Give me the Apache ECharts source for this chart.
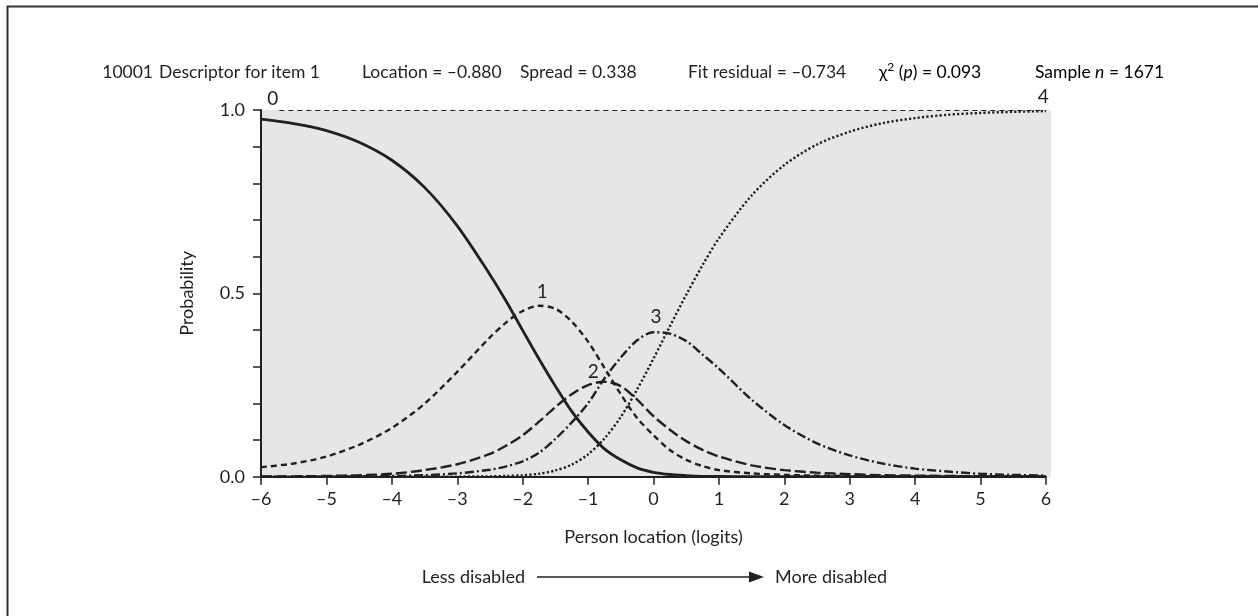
<!DOCTYPE html>
<html>
<head>
<meta charset="utf-8">
<script src="https://cdn.jsdelivr.net/npm/echarts@6/dist/echarts.min.js"></script>
<style>
  html, body { margin: 0; padding: 0; background: #fff; }
  #chart { width: 1258px; height: 616px; }
</style>
</head>
<body>
<div id="chart"></div>
<script>
// person location (logits); finer steps where the curves bend most
const xs = [-6, -5.5, -5, -4.5, -4, -3.5, -3, -2.5, -2.25, -2, -1.75, -1.5, -1.25, -1, -0.75, -0.5, -0.25, 0, 0.25, 0.5, 0.75, 1, 1.5, 2, 2.5, 3, 3.5, 4, 4.5, 5, 5.5, 6]

// category probability curves
const cat0 = [0.975, 0.963, 0.944, 0.912, 0.863, 0.789, 0.684, 0.551, 0.478, 0.399, 0.321, 0.247, 0.178, 0.122, 0.076, 0.046, 0.024, 0.012, 0.006, 0.003, 0.001, 0.0005, 0, 0, 0, 0, 0, 0, 0, 0, 0, 0]
const cat1 = [0.026, 0.036, 0.055, 0.087, 0.133, 0.199, 0.286, 0.380, 0.421, 0.452, 0.466, 0.458, 0.423, 0.368, 0.297, 0.225, 0.16, 0.113, 0.073, 0.046, 0.029, 0.018, 0.009, 0.005, 0.003, 0.002, 0.001, 0.001, 0, 0, 0, 0]
const cat2 = [0.0005, 0.001, 0.002, 0.004, 0.008, 0.018, 0.034, 0.062, 0.085, 0.113, 0.15, 0.19, 0.225, 0.25, 0.259, 0.247, 0.21, 0.165, 0.128, 0.097, 0.073, 0.055, 0.031, 0.018, 0.011, 0.007, 0.004, 0.003, 0.002, 0.001, 0.0005, 0]
const cat3 = [0, 0, 0, 0.001, 0.002, 0.004, 0.009, 0.019, 0.028, 0.042, 0.065, 0.103, 0.148, 0.2, 0.268, 0.325, 0.372, 0.394, 0.39, 0.37, 0.333, 0.295, 0.21, 0.141, 0.091, 0.058, 0.036, 0.022, 0.014, 0.008, 0.005, 0.003]
const cat4 = [0, 0, 0, 0, 0, 0, 0.0002, 0.001, 0.002, 0.004, 0.008, 0.017, 0.033, 0.061, 0.104, 0.163, 0.238, 0.322, 0.41, 0.496, 0.577, 0.65, 0.767, 0.85, 0.906, 0.941, 0.964, 0.978, 0.987, 0.992, 0.995, 0.997]

// curve labels (category number, x, probability)
const catNames = ['0', '1', '2', '3', '4']
const catLabelX = [-5.82, -1.7, -0.92, 0.04, 5.96]
const catLabelY = [1.03, 0.503, 0.285, 0.437, 1.035]

const yLabelled = [0, 0.5, 1]

const INK = '#231f20'
const GREY = '#e5e6e8'
const FONT = 'Lato, "Open Sans", "DejaVu Sans", sans-serif'

const pairs = ys => xs.map((x, i) => [x, ys[i]])

const curve = (name, ys, dash, width) => ({
  name,
  type: 'line',
  data: pairs(ys),
  smooth: 0.3,
  showSymbol: false,
  symbol: 'none',
  lineStyle: { color: INK, width, type: dash, cap: 'butt' },
  z: 3,
})

const series = [
  curve('0', cat0, 'solid', 2.8),
  curve('1', cat1, [6, 4], 2.4),
  curve('2', cat2, [11, 4], 2.4),
  curve('3', cat3, [9, 3, 2, 3], 2.4),
  curve('4', cat4, [2.2, 2.2], 2.4),
  {
    name: 'labels',
    type: 'scatter',
    symbolSize: 0,
    clip: false,
    itemStyle: { opacity: 1 },
    data: catNames.map((n, i) => ({ name: n, value: [catLabelX[i], catLabelY[i]] })),
    label: {
      show: true,
      position: 'inside',
      formatter: p => p.name,
      color: INK,
      opacity: 1,
      fontSize: 19,
      fontFamily: FONT,
    },
    z: 5,
  },
]

// thin dashed line along the top at p = 1.0
series[0].markLine = {
  silent: true,
  symbol: ['none', 'none'],
  label: { show: false },
  lineStyle: { color: INK, width: 1.2, type: [5, 4] },
  data: [[{ coord: [-5.72, 1] }, { coord: [6, 1] }]],
}

const TITLE_Y = 72
const titleText = (txt, x, align) => ({
  type: 'text',
  x, y: TITLE_Y,
  style: { text: txt, fill: INK, font: '17.5px ' + FONT, textAlign: align || 'left', textVerticalAlign: 'middle' },
})

const richStyle = {
  t: { fontSize: 17.5, fontFamily: FONT, color: INK, lineHeight: 22 },
  i: { fontSize: 17.5, fontFamily: FONT, color: INK, fontStyle: 'italic', lineHeight: 22 },
  sup: { fontSize: 12, fontFamily: FONT, color: INK, verticalAlign: 'top', lineHeight: 22 },
}

const chart = echarts.init(document.getElementById('chart'), null, { renderer: 'canvas' })

chart.setOption({
  animation: false,
  backgroundColor: '#fff',
  grid: {
    left: 261, right: 212, top: 110, bottom: 139.3,
    show: true, backgroundColor: GREY, borderWidth: 0,
  },
  xAxis: {
    type: 'value',
    min: -6, max: 6, interval: 1,
    name: 'Person location (logits)',
    nameLocation: 'middle',
    nameGap: 51,
    nameTextStyle: { color: INK, fontSize: 18, fontFamily: FONT },
    axisLine: { show: true, onZero: false, lineStyle: { color: INK, width: 2 } },
    axisTick: { show: true, length: 8, lineStyle: { color: INK, width: 1.5 } },
    axisLabel: {
      color: INK, fontSize: 18, fontFamily: FONT, margin: 13,
      formatter: v => (v < 0 ? '\u2013' + (-v) : String(v)),
    },
    splitLine: { show: false },
  },
  yAxis: {
    type: 'value',
    min: 0, max: 1, interval: 0.1,
    name: 'Probability',
    nameLocation: 'middle',
    nameGap: 65,
    nameTextStyle: { color: INK, fontSize: 18, fontFamily: FONT },
    axisLine: { show: true, onZero: false, lineStyle: { color: INK, width: 2 } },
    axisTick: { show: true, length: 8, lineStyle: { color: INK, width: 1.5 } },
    axisLabel: {
      color: INK, fontSize: 18, fontFamily: FONT, margin: 16,
      formatter: v => (yLabelled.some(t => Math.abs(t - v) < 1e-6) ? v.toFixed(1) : ''),
    },
    splitLine: { show: false },
  },
  series,
  graphic: [
    // outer frame (right / bottom edges fall outside the picture)
    {
      type: 'rect',
      shape: { x: 7.5, y: 6.5, width: 1400, height: 800 },
      style: { fill: 'none', stroke: '#333', lineWidth: 2 },
      silent: true,
    },
    // the grey panel runs a few pixels past the last tick
    {
      type: 'rect', z: -1,
      shape: { x: 1046, y: 110, width: 5, height: 366.7 },
      style: { fill: GREY },
      silent: true,
    },
    titleText('10001', 153, 'right'),
    titleText('Descriptor for item 1', 159),
    titleText('Location = \u20130.880', 362),
    titleText('Spread = 0.338', 520),
    titleText('Fit residual = \u20130.734', 688),
    {
      type: 'text', x: 879, y: TITLE_Y,
      style: {
        text: '{t|\u03c7}{sup|2}{t| (}{i|p}{t|) = 0.093}',
        rich: richStyle, textVerticalAlign: 'middle',
      },
    },
    {
      type: 'text', x: 1035, y: TITLE_Y,
      style: {
        text: '{t|Sample }{i|n}{t| = 1671}',
        rich: richStyle, textVerticalAlign: 'middle',
      },
    },
    // direction arrow under the axis
    {
      type: 'text', x: 525, y: 577,
      style: { text: 'Less disabled', fill: INK, font: '18px ' + FONT, textAlign: 'right', textVerticalAlign: 'middle' },
    },
    {
      type: 'line',
      shape: { x1: 537, y1: 577, x2: 752, y2: 577 },
      style: { stroke: INK, lineWidth: 1.6 },
    },
    {
      type: 'polygon',
      shape: { points: [[749, 571.5], [764, 577], [749, 582.5]] },
      style: { fill: INK },
    },
    {
      type: 'text', x: 775, y: 577,
      style: { text: 'More disabled', fill: INK, font: '18px ' + FONT, textAlign: 'left', textVerticalAlign: 'middle' },
    },
  ],
})
</script>
</body>
</html>
